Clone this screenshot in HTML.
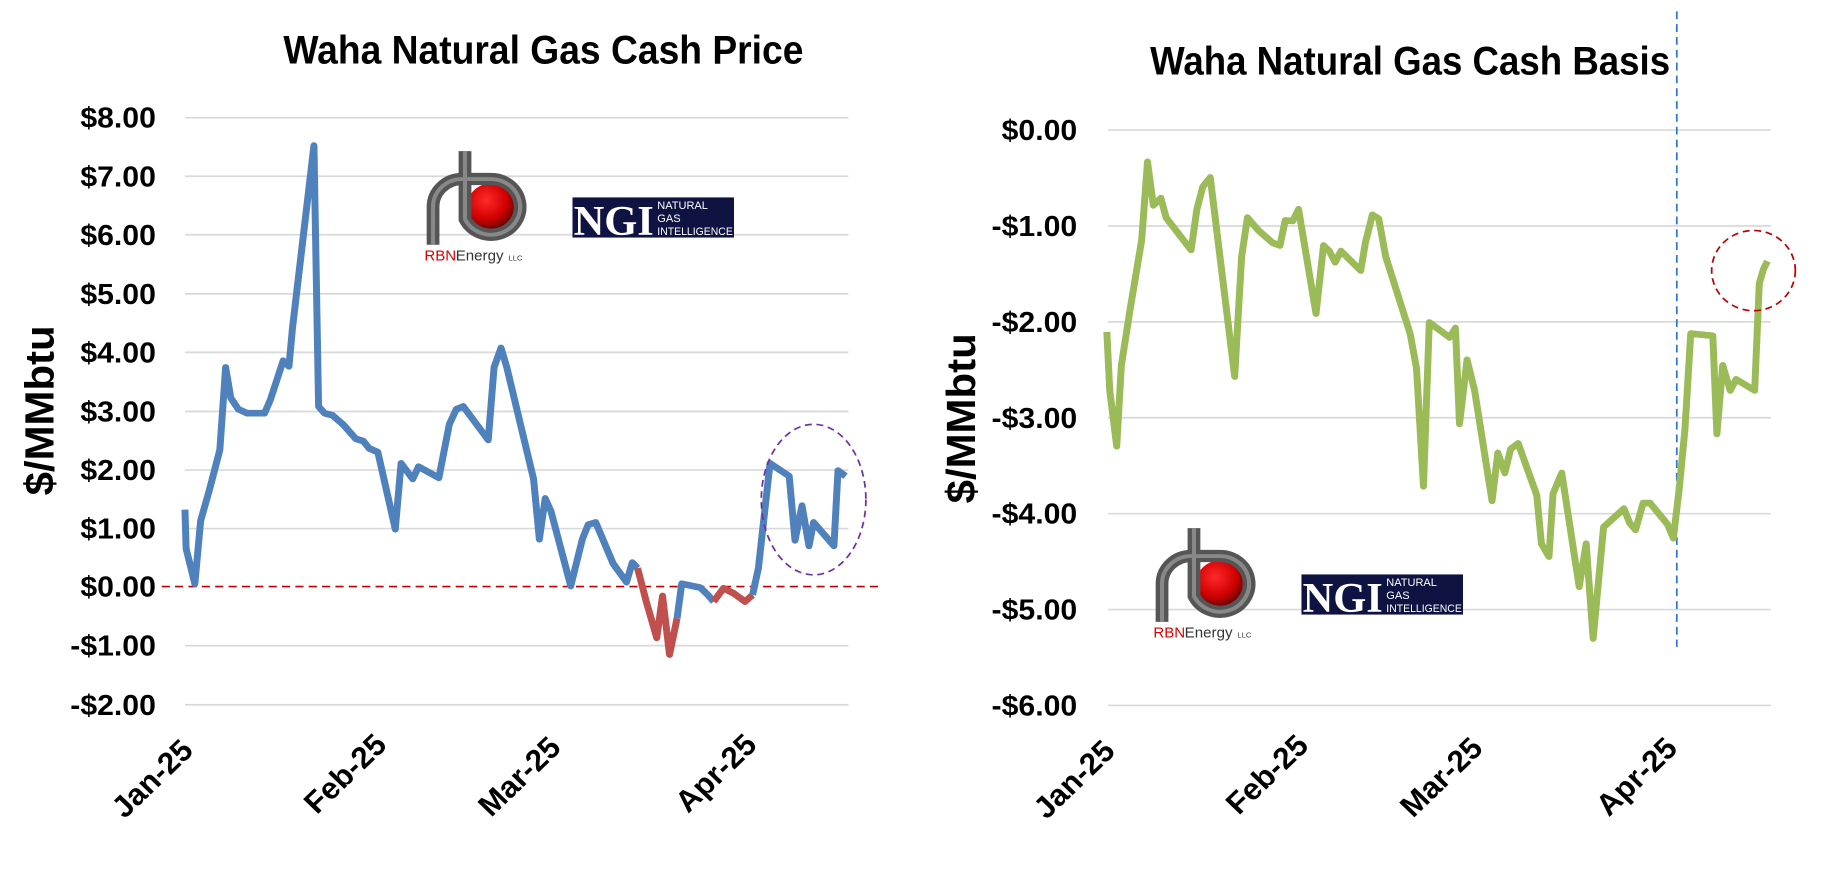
<!DOCTYPE html>
<html><head><meta charset="utf-8"><style>html,body{margin:0;padding:0;background:#fff;}svg{display:block;}</style></head>
<body>
<svg width="1824" height="873" viewBox="0 0 1824 873" xmlns="http://www.w3.org/2000/svg" font-family="'Liberation Sans', sans-serif">
<defs>
<radialGradient id="rg" cx="0.4" cy="0.35" r="0.7"><stop offset="0" stop-color="#ff2a2a"/><stop offset="0.6" stop-color="#d00000"/><stop offset="1" stop-color="#500000"/></radialGradient>
<g id="logos">
  <circle cx="845" cy="372" r="42" fill="url(#rg)"/>
  <path d="M745 440 V372 A50 50 0 0 1 795 322 H845 A50 50 0 1 1 800 394 V272" fill="none" stroke="#555" stroke-width="22"/>
  <path d="M745 440 V372 A50 50 0 0 1 795 322 H845 A50 50 0 1 1 800 394 V272" fill="none" stroke="#888" stroke-width="7"/>
  <text x="730" y="468" font-size="26" fill="#e00000">RBN</text>
  <text x="784" y="468" font-size="26" fill="#333">Energy</text>
  <text x="875" y="468" font-size="13" fill="#333">LLC</text>
  <rect x="985" y="355" width="278" height="72" fill="#0f1342"/>
  <text x="987" y="422" font-family="'Liberation Serif', serif" font-weight="bold" font-size="76" fill="#fff" textLength="138" lengthAdjust="spacingAndGlyphs">NGI</text>
  <text x="1131" y="376" font-size="19" fill="#fff">NATURAL</text>
  <text x="1131" y="399" font-size="19" fill="#fff">GAS</text>
  <text x="1131" y="422" font-size="19" fill="#fff" textLength="130" lengthAdjust="spacingAndGlyphs">INTELLIGENCE</text>
</g>
</defs>

<!-- LEFT CHART -->
<g transform="translate(0.2,-0.5) scale(0.581,0.5575)">
  <g stroke="#d9d9d9" stroke-width="3">
    <line x1="318" x2="1460" y1="212" y2="212"/><line x1="318" x2="1460" y1="317" y2="317"/>
    <line x1="318" x2="1460" y1="422" y2="422"/><line x1="318" x2="1460" y1="528" y2="528"/>
    <line x1="318" x2="1460" y1="633" y2="633"/><line x1="318" x2="1460" y1="739" y2="739"/>
    <line x1="318" x2="1460" y1="844" y2="844"/><line x1="318" x2="1460" y1="949" y2="949"/>
    <line x1="318" x2="1460" y1="1159" y2="1159"/><line x1="318" x2="1460" y1="1265" y2="1265"/>
  </g>
  <line x1="278" x2="1512" y1="1053" y2="1053" stroke="#c00000" stroke-width="3" stroke-dasharray="14 9"/>
  <g font-size="52" font-weight="bold" text-anchor="end" fill="#000">
    <text x="268" y="230">$8.00</text><text x="268" y="335">$7.00</text><text x="268" y="440">$6.00</text>
    <text x="268" y="546">$5.00</text><text x="268" y="651">$4.00</text><text x="268" y="757">$3.00</text>
    <text x="268" y="862">$2.00</text><text x="268" y="967">$1.00</text><text x="268" y="1071">$0.00</text>
    <text x="268" y="1177">-$1.00</text><text x="268" y="1283">-$2.00</text>
  </g>
  <text x="935" y="115" font-size="72" font-weight="bold" text-anchor="middle" textLength="895" lengthAdjust="spacingAndGlyphs">Waha Natural Gas Cash Price</text>
  <text transform="translate(92,737) rotate(-90)" font-size="70" font-weight="bold" text-anchor="middle" textLength="305" lengthAdjust="spacingAndGlyphs">$/MMbtu</text>
  <g font-size="54" font-weight="bold" text-anchor="end">
    <text transform="translate(335,1350) rotate(-45)">Jan-25</text>
    <text transform="translate(668,1340) rotate(-45)">Feb-25</text>
    <text transform="translate(968,1345) rotate(-45)">Mar-25</text>
    <text transform="translate(1305,1340) rotate(-45)">Apr-25</text>
  </g>
  <use href="#logos"/>
  <polyline fill="none" stroke="#4f81bd" stroke-width="12" stroke-linejoin="round" points="318,915 320,985 335,1048 345,935 360,880 378,808 388,660 397,715 410,735 425,742 455,742 465,718 487,648 497,658 503,590 540,262 548,730 558,742 572,746 590,762 612,788 625,792 635,805 650,812 680,950 690,832 710,860 720,838 755,858 773,762 785,735 797,730 840,790 850,660 862,625 872,660 918,860 928,968 938,895 948,918 982,1052 1002,968 1012,942 1025,938 1055,1012 1078,1045 1088,1010 1097,1020"/>
  <polyline fill="none" stroke="#c0504d" stroke-width="12" stroke-linejoin="round" points="1097,1020 1112,1080 1130,1145 1140,1070 1152,1175 1165,1110"/>
  <polyline fill="none" stroke="#4f81bd" stroke-width="12" stroke-linejoin="round" points="1165,1110 1173,1048 1205,1055 1218,1068 1228,1080"/>
  <polyline fill="none" stroke="#c0504d" stroke-width="12" stroke-linejoin="round" points="1228,1080 1245,1056 1262,1065 1282,1080 1295,1068"/>
  <polyline fill="none" stroke="#4f81bd" stroke-width="12" stroke-linejoin="round" points="1295,1068 1305,1020 1325,832 1358,855 1368,970 1380,908 1392,980 1400,938 1435,980 1442,845 1455,855"/>
  <ellipse cx="1400" cy="897" rx="90" ry="135" fill="none" stroke="#7030a0" stroke-width="3" stroke-dasharray="12 8"/>
</g>

<!-- RIGHT CHART -->
<g transform="translate(912.2,0.2) scale(0.581,0.5575)">
  <g stroke="#d9d9d9" stroke-width="3">
    <line x1="337" x2="1478" y1="233" y2="233"/><line x1="337" x2="1478" y1="405" y2="405"/>
    <line x1="337" x2="1478" y1="577" y2="577"/><line x1="337" x2="1478" y1="749" y2="749"/>
    <line x1="337" x2="1478" y1="921" y2="921"/><line x1="337" x2="1478" y1="1093" y2="1093"/>
    <line x1="337" x2="1478" y1="1265" y2="1265"/>
  </g>
  <g font-size="52" font-weight="bold" text-anchor="end" fill="#000">
    <text x="284" y="251">$0.00</text><text x="284" y="423">-$1.00</text><text x="284" y="595">-$2.00</text>
    <text x="284" y="767">-$3.00</text><text x="284" y="939">-$4.00</text><text x="284" y="1111">-$5.00</text>
    <text x="284" y="1283">-$6.00</text>
  </g>
  <text x="857" y="133" font-size="72" font-weight="bold" text-anchor="middle" textLength="895" lengthAdjust="spacingAndGlyphs">Waha Natural Gas Cash Basis</text>
  <text transform="translate(108,750) rotate(-90)" font-size="70" font-weight="bold" text-anchor="middle" textLength="305" lengthAdjust="spacingAndGlyphs">$/MMbtu</text>
  <g font-size="54" font-weight="bold" text-anchor="end">
    <text transform="translate(352,1350) rotate(-45)">Jan-25</text>
    <text transform="translate(685,1340) rotate(-45)">Feb-25</text>
    <text transform="translate(985,1345) rotate(-45)">Mar-25</text>
    <text transform="translate(1320,1345) rotate(-45)">Apr-25</text>
  </g>
  <use href="#logos" transform="translate(-315,675)"/>
  <line x1="1316" x2="1316" y1="20" y2="1160" stroke="#2e75d6" stroke-width="3" stroke-dasharray="14 9"/>
  <polyline fill="none" stroke="#9bbb59" stroke-width="12" stroke-linejoin="round" points="335,595 340,700 352,800 360,655 375,555 395,430 405,290 415,368 428,355 437,390 480,448 490,375 500,335 513,318 555,675 567,460 577,390 595,412 620,435 633,440 642,395 655,396 665,375 695,562 708,440 718,450 728,470 738,450 772,485 780,435 792,385 803,392 815,460 857,598 868,660 880,872 890,578 925,605 935,588 942,760 955,645 968,700 998,898 1008,812 1020,848 1030,805 1043,795 1075,888 1083,975 1096,998 1103,885 1118,848 1148,1052 1160,975 1172,1145 1190,945 1225,912 1235,938 1245,950 1258,902 1270,902 1300,940 1310,965 1320,878 1330,770 1340,598 1378,602 1385,778 1395,655 1408,700 1418,680 1450,700 1458,508 1465,483 1472,468"/>
  <circle cx="1448" cy="485" r="72" fill="none" stroke="#c00000" stroke-width="3" stroke-dasharray="12 8"/>
</g>
</svg>
</body></html>
